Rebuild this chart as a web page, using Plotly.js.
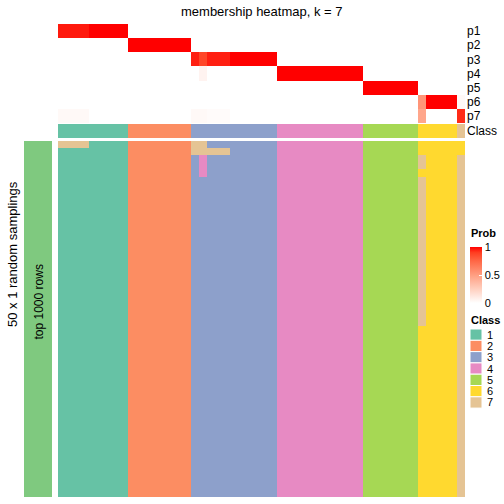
<!DOCTYPE html>
<html><head><meta charset="utf-8">
<script src="https://cdn.plot.ly/plotly-3.0.1.min.js"></script>
<style>html,body{margin:0;padding:0;background:#fff}#chart{width:504px;height:504px}</style>
</head><body><div id="chart"></div>
<script>
// ---------- data ----------
const titleText = "membership heatmap, k = 7";
const probRowLabels = ["p1", "p2", "p3", "p4", "p5", "p6", "p7"];
// membership probabilities per sample (52 samples, ordered as in picture)
const p1 = [0.96,0.96,0.96,0.96,1,1,1,1,1, 0,0,0,0,0,0,0,0, 0,0,0,0,0,0,0,0,0,0,0, 0,0,0,0,0,0,0,0,0,0,0, 0,0,0,0,0,0,0, 0,0,0,0,0, 0];
const p2 = [0,0,0,0,0,0,0,0,0, 1,1,1,1,1,1,1,1, 0,0,0,0,0,0,0,0,0,0,0, 0,0,0,0,0,0,0,0,0,0,0, 0,0,0,0,0,0,0, 0,0,0,0,0, 0];
const p3 = [0,0,0,0,0,0,0,0,0, 0,0,0,0,0,0,0,0, 0.95,0.87,0.95,0.95,0.95,1,1,1,1,1,1, 0,0,0,0,0,0,0,0,0,0,0, 0,0,0,0,0,0,0, 0,0,0,0,0, 0];
const p4 = [0,0,0,0,0,0,0,0,0, 0,0,0,0,0,0,0,0, 0,0.06,0,0,0,0,0,0,0,0,0, 1,1,1,1,1,1,1,1,1,1,1, 0,0,0,0,0,0,0, 0,0,0,0,0, 0];
const p5 = [0,0,0,0,0,0,0,0,0, 0,0,0,0,0,0,0,0, 0,0,0,0,0,0,0,0,0,0,0, 0,0,0,0,0,0,0,0,0,0,0, 1,1,1,1,1,1,1, 0,0,0,0,0, 0];
const p6 = [0,0,0,0,0,0,0,0,0, 0,0,0,0,0,0,0,0, 0,0,0,0,0,0,0,0,0,0,0, 0,0,0,0,0,0,0,0,0,0,0, 0,0,0,0,0,0,0, 0.54,1,1,1,1, 0.03];
const p7 = [0.03,0.03,0.03,0.03,0,0,0,0,0, 0,0,0,0,0,0,0,0, 0.03,0.03,0.02,0.02,0.02,0,0,0,0,0,0, 0,0,0,0,0,0,0,0,0,0,0, 0,0,0,0,0,0,0, 0.46,0,0,0,0, 0.93];
// class of each sample
const sampleClasses = [1,1,1,1,1,1,1,1,1, 2,2,2,2,2,2,2,2, 3,3,3,3,3,3,3,3,3,3,3, 4,4,4,4,4,4,4,4,4,4,4, 5,5,5,5,5,5,5, 6,6,6,6,6, 7];
const classLabels = ["1", "2", "3", "4", "5", "6", "7"];
const classColors = ["#66C2A5", "#FC8D62", "#8DA0CB", "#E78AC3", "#A6D854", "#FFD92F", "#E5C494"];
// 50 random samplings: class per sample (one digit per sample)
const samplingRows = [
"7777111112222222277333333333444444444445555555666666",
"1111111112222222277777333333444444444445555555666666",
"1111111112222222234333333333444444444445555555766667",
"1111111112222222234333333333444444444445555555766667",
"1111111112222222234333333333444444444445555555666667",
"1111111112222222233333333333444444444445555555766667",
"1111111112222222233333333333444444444445555555766667",
"1111111112222222233333333333444444444445555555766667",
"1111111112222222233333333333444444444445555555766667",
"1111111112222222233333333333444444444445555555766667",
"1111111112222222233333333333444444444445555555766667",
"1111111112222222233333333333444444444445555555766667",
"1111111112222222233333333333444444444445555555766667",
"1111111112222222233333333333444444444445555555766667",
"1111111112222222233333333333444444444445555555766667",
"1111111112222222233333333333444444444445555555766667",
"1111111112222222233333333333444444444445555555766667",
"1111111112222222233333333333444444444445555555766667",
"1111111112222222233333333333444444444445555555766667",
"1111111112222222233333333333444444444445555555766667",
"1111111112222222233333333333444444444445555555766667",
"1111111112222222233333333333444444444445555555766667",
"1111111112222222233333333333444444444445555555766667",
"1111111112222222233333333333444444444445555555766667",
"1111111112222222233333333333444444444445555555766667",
"1111111112222222233333333333444444444445555555766667",
"1111111112222222233333333333444444444445555555666667",
"1111111112222222233333333333444444444445555555666667",
"1111111112222222233333333333444444444445555555666667",
"1111111112222222233333333333444444444445555555666667",
"1111111112222222233333333333444444444445555555666667",
"1111111112222222233333333333444444444445555555666667",
"1111111112222222233333333333444444444445555555666667",
"1111111112222222233333333333444444444445555555666667",
"1111111112222222233333333333444444444445555555666667",
"1111111112222222233333333333444444444445555555666667",
"1111111112222222233333333333444444444445555555666667",
"1111111112222222233333333333444444444445555555666667",
"1111111112222222233333333333444444444445555555666667",
"1111111112222222233333333333444444444445555555666667",
"1111111112222222233333333333444444444445555555666667",
"1111111112222222233333333333444444444445555555666667",
"1111111112222222233333333333444444444445555555666667",
"1111111112222222233333333333444444444445555555666667",
"1111111112222222233333333333444444444445555555666667",
"1111111112222222233333333333444444444445555555666667",
"1111111112222222233333333333444444444445555555666667",
"1111111112222222233333333333444444444445555555666667",
"1111111112222222233333333333444444444445555555666667",
"1111111112222222233333333333444444444445555555666667"
];
const rowTitle = "50 x 1 random samplings";
const rowAnnoText = "top 1000 rows";
const probTicks = [0, 0.5, 1];

// ---------- drawing ----------
const W = 504, H = 504;
const px = v => v / W;
const py = v => 1 - v / H;
const FONT = "Liberation Sans, Arial, Helvetica, sans-serif";

const nS = sampleClasses.length;
const xIdx = sampleClasses.map((_, i) => i);

const probScale = [
  [0, "rgb(255,255,255)"], [0.25, "rgb(255,207,191)"], [0.5, "rgb(255,158,129)"],
  [0.75, "rgb(255,103,70)"], [0.9, "rgb(255,62,33)"], [1, "rgb(255,0,0)"]
];
const nC = classColors.length;
const classScale = [];
classColors.forEach((c, i) => { classScale.push([i / nC, c]); classScale.push([(i + 1) / nC, c]); });

const probZ = [p1, p2, p3, p4, p5, p6, p7];
const mainZ = samplingRows.map(s => s.split("").map(Number));

const traces = [
  {
    type: "heatmap", z: probZ, x: xIdx, y: probRowLabels.map((_, i) => i),
    xaxis: "x", yaxis: "y", zmin: 0, zmax: 1, colorscale: probScale, hoverinfo: "skip",
    colorbar: {
      x: px(470), xanchor: "left", y: py(247), yanchor: "top",
      len: 56, lenmode: "pixels", thickness: 12, thicknessmode: "pixels",
      xpad: 0, ypad: 0, outlinewidth: 0, borderwidth: 0,
      tickvals: probTicks, ticktext: probTicks.map(String),
      ticks: "inside", ticklen: 3, tickcolor: "white", tickwidth: 1,
      tickfont: { family: FONT, size: 11, color: "#000" }
    }
  },
  {
    type: "heatmap", z: [sampleClasses], x: xIdx, y: [0],
    xaxis: "x", yaxis: "y2", zmin: 0.5, zmax: nC + 0.5, colorscale: classScale,
    showscale: false, hoverinfo: "skip"
  },
  {
    type: "heatmap", z: mainZ, x: xIdx, y: mainZ.map((_, i) => i),
    xaxis: "x", yaxis: "y3", zmin: 0.5, zmax: nC + 0.5, colorscale: classScale,
    showscale: false, hoverinfo: "skip"
  }
];

const shapes = [
  { type: "rect", xref: "paper", yref: "paper", x0: px(24), x1: px(52), y0: py(497), y1: py(141),
    fillcolor: "#7FC97F", line: { width: 0 }, layer: "below" }
];
const annotations = [
  { text: titleText, x: px(261.5), y: py(11), xref: "paper", yref: "paper", showarrow: false,
    xanchor: "center", yanchor: "middle", font: { family: FONT, size: 13, color: "#000" } },
  { text: rowTitle, x: px(12), y: py(254), xref: "paper", yref: "paper", showarrow: false,
    textangle: -90, xanchor: "center", yanchor: "middle", font: { family: FONT, size: 13, color: "#000" } },
  { text: rowAnnoText, x: px(38.5), y: py(302), xref: "paper", yref: "paper", showarrow: false,
    textangle: -90, xanchor: "center", yanchor: "middle", font: { family: FONT, size: 12, color: "#000" } },
  { text: "<b>Prob</b>", x: px(469), y: py(233), xref: "paper", yref: "paper", showarrow: false,
    xanchor: "left", yanchor: "middle", font: { family: FONT, size: 11, color: "#000" } },
  { text: "<b>Class</b>", x: px(469), y: py(320), xref: "paper", yref: "paper", showarrow: false,
    xanchor: "left", yanchor: "middle", font: { family: FONT, size: 11, color: "#000" } }
];
const boxTop = 329, boxH = 11.3;
classLabels.forEach((lab, i) => {
  const y0 = boxTop + i * boxH;
  shapes.push({ type: "rect", xref: "paper", yref: "paper", x0: px(470), x1: px(482),
    y0: py(y0 + boxH), y1: py(y0), fillcolor: classColors[i], line: { color: "white", width: 1 } });
  annotations.push({ text: lab, x: px(485), y: py(y0 + boxH / 2), xref: "paper", yref: "paper",
    showarrow: false, xanchor: "left", yanchor: "middle", font: { family: FONT, size: 11, color: "#000" } });
});

const noAxis = { showgrid: false, zeroline: false, showline: false, ticks: "" };
const layout = {
  width: W, height: H, margin: { l: 0, r: 0, t: 0, b: 0, autoexpand: false },
  paper_bgcolor: "white", plot_bgcolor: "white", showlegend: false,
  font: { family: FONT, color: "#000" },
  xaxis: Object.assign({}, noAxis, { domain: [px(58), px(465)], range: [-0.5, nS - 0.5],
    showticklabels: false, fixedrange: true }),
  yaxis: Object.assign({}, noAxis, { domain: [py(123), py(24)], range: [probRowLabels.length - 0.5, -0.5],
    anchor: "x", side: "right", tickvals: probRowLabels.map((_, i) => i), ticktext: probRowLabels,
    tickfont: { family: FONT, size: 12, color: "#000" }, ticklabelstandoff: 1 }),
  yaxis2: Object.assign({}, noAxis, { domain: [py(138), py(124)], range: [0.5, -0.5],
    anchor: "x", side: "right", tickvals: [0], ticktext: ["Class"],
    tickfont: { family: FONT, size: 12, color: "#000" }, ticklabelstandoff: 1 }),
  yaxis3: Object.assign({}, noAxis, { domain: [py(497), py(141)], range: [mainZ.length - 0.5, -0.5],
    anchor: "x", showticklabels: false }),
  shapes: shapes, annotations: annotations
};

Plotly.newPlot("chart", traces, layout, { staticPlot: true, displayModeBar: false });
</script>
</body></html>
